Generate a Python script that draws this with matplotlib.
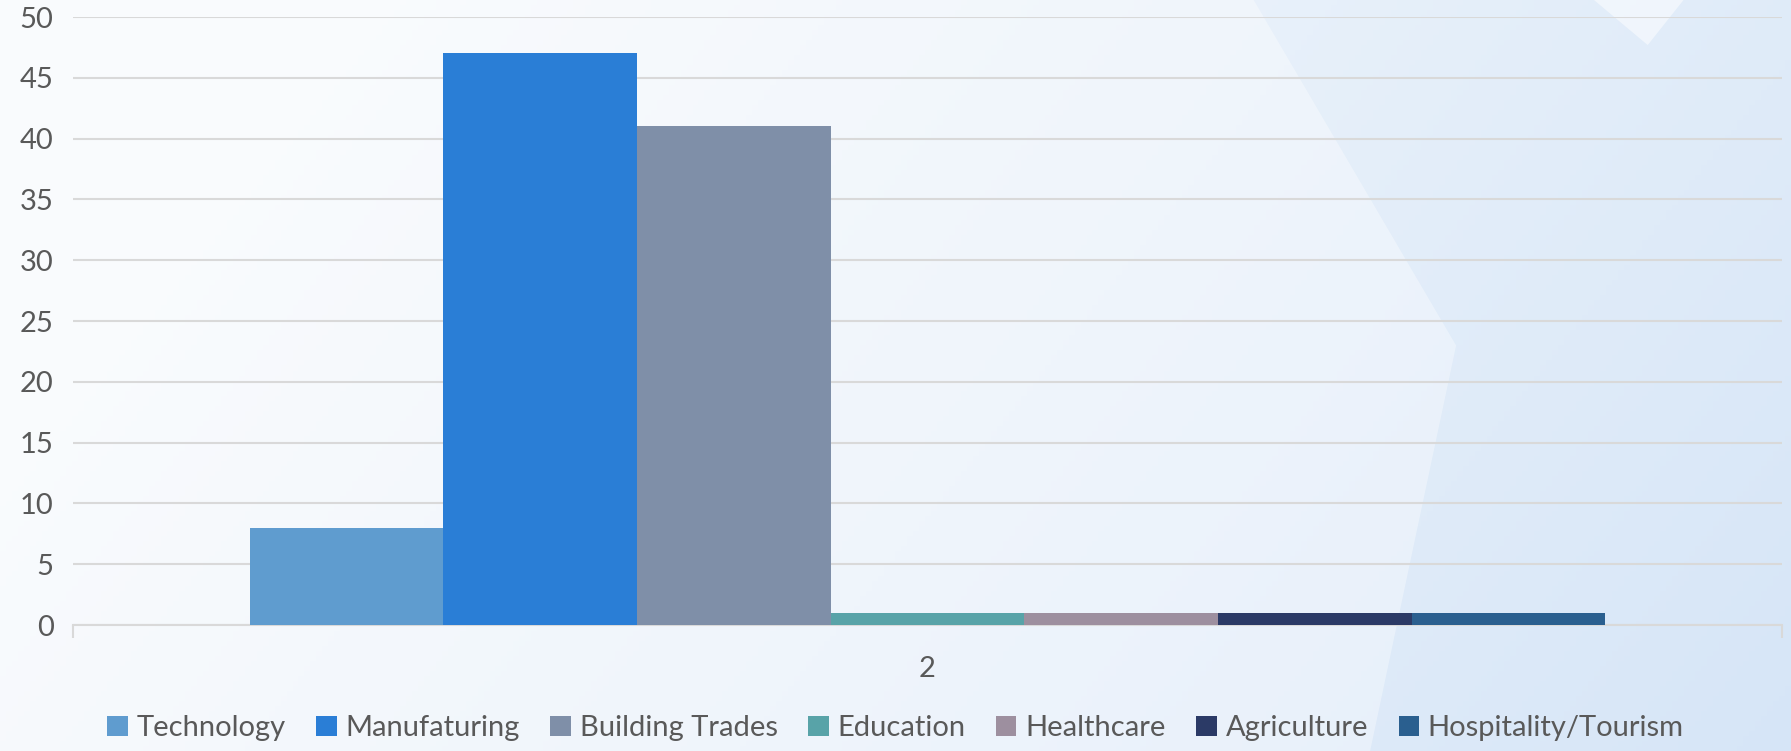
import matplotlib.pyplot as plt
import numpy as np
from matplotlib.patches import Polygon

categories = ["2"]
series = ["Technology", "Manufaturing", "Building Trades", "Education",
          "Healthcare", "Agriculture", "Hospitality/Tourism"]
values = [8, 47, 41, 1, 1, 1, 1]
colors = ["#5f9ccf", "#2a7ed6", "#7f8fa8", "#58a3a8",
          "#9d8f9f", "#2b3a66", "#2a5f8f"]

plt.rcParams['font.family'] = ['Lato', 'DejaVu Sans']

fig = plt.figure(figsize=(17.91, 7.51), dpi=100)

# background gradient
bg = fig.add_axes([0, 0, 1, 1], zorder=-10)
gx = np.linspace(0, 1, 300)
gy = np.linspace(0, 1, 150)
X, Y = np.meshgrid(gx, gy)
t = np.clip(0.9 * X + 0.3 * (1 - Y) - 0.2, 0, 1)
c0 = np.array([0.965, 0.978, 0.99])
c1 = np.array([0.84, 0.9, 0.97])
img = c0[None, None, :] * (1 - t[..., None]) + c1[None, None, :] * t[..., None]
bg.imshow(img, extent=[0, 1, 0, 1], aspect='auto', origin='lower')
bg.add_patch(Polygon([[0, 0], [0, 1], [0.70, 1], [0.813, 0.54], [0.765, 0]],
                     closed=True, color='white', alpha=0.35, lw=0))
bg.add_patch(Polygon([[0.89, 1], [0.94, 1], [0.92, 0.94]],
                     closed=True, color='white', alpha=0.5, lw=0))
bg.set_xlim(0, 1)
bg.set_ylim(0, 1)
bg.axis('off')

ax = fig.add_axes([73 / 1791, 1 - 625 / 751, (1782 - 73) / 1791, (625 - 17) / 751])
ax.patch.set_alpha(0)

n = len(series)
group = 0.793
w = group / n
x = np.arange(len(categories))
for i, (s, v, c) in enumerate(zip(series, values, colors)):
    ax.bar(x - group / 2 + w * (i + 0.5), [v], width=w, color=c, label=s, zorder=3)

ax.set_xlim(-0.5, 0.5)
ax.set_ylim(0, 50)
ax.set_yticks(np.arange(0, 51, 5))
ax.grid(axis='y', color='#d9d9d9', lw=1.5, zorder=0)
for sp in ['top', 'right', 'left']:
    ax.spines[sp].set_visible(False)
ax.spines['bottom'].set_color('#d9d9d9')
ax.spines['bottom'].set_linewidth(1.5)
ax.set_xticks(x)
ax.set_xticklabels(categories)
ax.set_xticks([-0.5, 0.5], minor=True)
ax.tick_params(axis='x', which='major', length=0, pad=22, labelsize=21, labelcolor='#595959')
ax.tick_params(axis='x', which='minor', length=9, width=1.5, color='#d9d9d9')
ax.tick_params(axis='y', length=0, pad=14, labelsize=21, labelcolor='#595959')

fig.legend(loc='lower center', ncol=n, bbox_to_anchor=(0.5, -0.022), frameon=False,
           fontsize=21, labelcolor='#595959', handlelength=0.7, handleheight=0.7,
           handletextpad=0.3, columnspacing=1.05)

fig.savefig('out.png', dpi=100)
